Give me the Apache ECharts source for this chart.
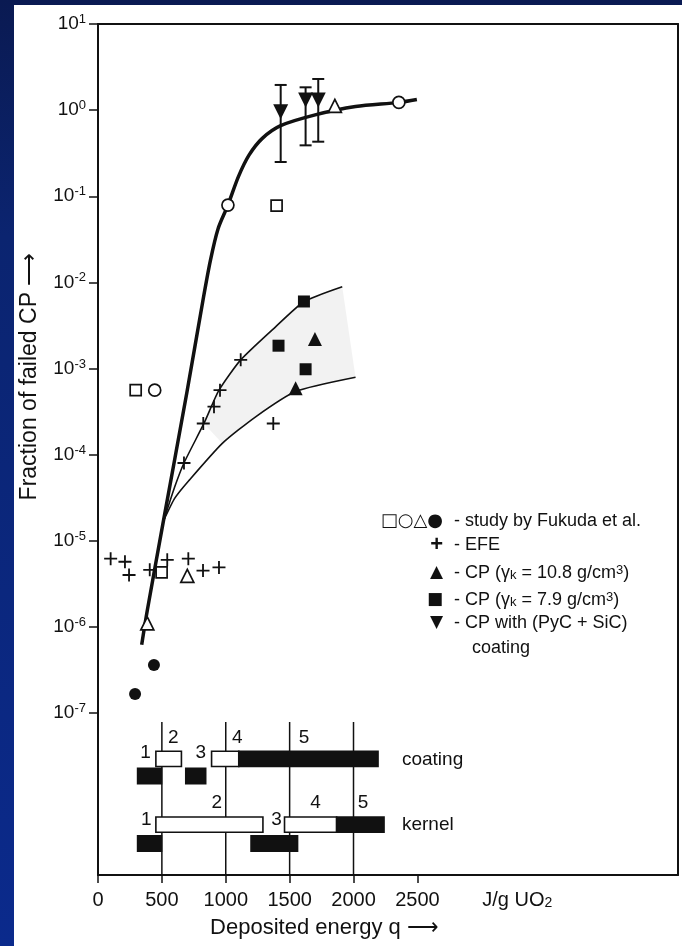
<!DOCTYPE html>
<html>
<head>
<meta charset="utf-8">
<script src="https://cdn.jsdelivr.net/npm/echarts@6/dist/echarts.min.js"></script>
<style>
  html, body { margin: 0; padding: 0; width: 682px; height: 946px; overflow: hidden;
    background: linear-gradient(#0a1a52 0%, #0b2470 25%, #0b2a8c 100%); }
  #chart { position: absolute; left: 14px; top: 5px; width: 668px; height: 941px; background: #fff; }
</style>
</head>
<body>
<div id="chart"></div>
<script>
// ---- failure curves (deposited energy J/g UO2 -> fraction of failed coated particles)
const mainCurveX = [342, 386, 509, 696, 820, 880, 940, 1017, 1100, 1182, 1286, 1430, 1700, 2016, 2355, 2496];
const mainCurveY = [6.2e-7, 1.56e-6, 1.6e-5, 5.3e-4, 6.0e-3, 1.8e-2, 4.2e-2, 7.9e-2, 0.17, 0.30, 0.47, 0.66, 0.88, 1.1, 1.23, 1.33];
const upperCurveX = [516, 600, 673, 829, 947, 1117, 1390, 1612, 1912];
const upperCurveY = [1.74e-5, 4.2e-5, 8.0e-5, 2.3e-4, 5.6e-4, 1.26e-3, 3.05e-3, 5.96e-3, 8.9e-3];
const lowerCurveX = [516, 600, 712, 973, 1234, 1547, 2016];
const lowerCurveY = [1.74e-5, 3.1e-5, 5.0e-5, 1.35e-4, 2.75e-4, 5.4e-4, 7.9e-4];

// ---- Fukuda et al.
const fukudaSquareX = [295, 1398, 498];
const fukudaSquareY = [5.6e-4, 0.078, 4.3e-6];
const fukudaCircleX = [444, 1017, 2355];
const fukudaCircleY = [5.6e-4, 0.079, 1.23];
const fukudaTriangleX = [1854, 699, 386];
const fukudaTriangleY = [1.12, 3.9e-6, 1.1e-6];
const fukudaDotX = [438, 290];
const fukudaDotY = [3.6e-7, 1.66e-7];

// ---- EFE
const efeX = [1117, 955, 908, 824, 673, 1372, 99, 211, 243, 405, 542, 707, 822, 947];
const efeY = [1.26e-3, 5.6e-4, 3.6e-4, 2.3e-4, 8.0e-5, 2.3e-4, 6.2e-6, 5.7e-6, 4.0e-6, 4.6e-6, 6.0e-6, 6.2e-6, 4.5e-6, 4.9e-6];

// ---- CP, kernel density 10.8 g/cm3 and 7.9 g/cm3
const cp108X = [1698, 1547];
const cp108Y = [2.2e-3, 5.9e-4];
const cp79X = [1612, 1413, 1625];
const cp79Y = [6.0e-3, 1.84e-3, 9.8e-4];

// ---- CP with (PyC + SiC) coating, with scatter ranges
const pycX = [1430, 1625, 1724];
const pycY = [0.96, 1.31, 1.31];
const pycLow = [0.25, 0.39, 0.43];
const pycHigh = [1.96, 1.84, 2.3];

// ---- axis ticks
const yTickValues = [1e-7, 1e-6, 1e-5, 1e-4, 1e-3, 1e-2, 1e-1, 1, 10];
const xTickValues = [0, 500, 1000, 1500, 2000, 2500];
const xUnitAt = 3282;

// ---- failure stages, bottom panel (row positions in panel units, 0 at top)
const stageRows = { coatingTop: 2.55, coatingLow: 3.5, kernelTop: 6.2, kernelLow: 7.25 };
// [start, end, row, filled]
const stageBars = [
  [453, 653, stageRows.coatingTop, 0],
  [889, 1102, stageRows.coatingTop, 0],
  [1102, 2192, stageRows.coatingTop, 1],
  [310, 497, stageRows.coatingLow, 1],
  [687, 843, stageRows.coatingLow, 1],
  [453, 1291, stageRows.kernelTop, 0],
  [1460, 1868, stageRows.kernelTop, 0],
  [1868, 2239, stageRows.kernelTop, 1],
  [310, 497, stageRows.kernelLow, 1],
  [1198, 1562, stageRows.kernelLow, 1]
];
const stageLines = [500, 1000, 1500, 2000];
// [x, row, text]
const stageNumbers = [
  [373, 2.22, '1'], [589, 1.39, '2'], [804, 2.22, '3'], [1090, 1.39, '4'], [1612, 1.39, '5'],
  [378, 5.94, '1'], [929, 5.0, '2'], [1398, 5.94, '3'], [1703, 5.0, '4'], [2074, 5.0, '5']
];
const stageNames = [[2379, 2.6, 'coating'], [2379, 6.22, 'kernel']];

const FONT = "'Liberation Sans', Arial, Helvetica, sans-serif";
const INK = '#111';
const X_MAX = 4540;

const zip = (xs, ys) => xs.map((x, i) => [x, ys[i]]);

const chart = echarts.init(document.getElementById('chart'));

const lineSeries = (name, xs, ys, width, smooth) => ({
  name, type: 'line', xAxisIndex: 0, yAxisIndex: 0,
  data: zip(xs, ys), showSymbol: false, smooth,
  lineStyle: { color: INK, width }, z: 3, silent: true
});

const scatterSeries = (name, xs, ys, symbol, size, filled, extra) => Object.assign({
  name, type: 'scatter', xAxisIndex: 0, yAxisIndex: 0,
  data: zip(xs, ys), symbol, symbolSize: size,
  itemStyle: { color: filled ? INK : '#fff', borderColor: INK, borderWidth: filled ? 0 : 1.7, opacity: 1 },
  z: 5
}, extra || {});

const supRich = {
  sub: { fontSize: 13, fontFamily: FONT, verticalAlign: 'bottom', lineHeight: 13 },
  sup: { fontSize: 13, fontFamily: FONT, verticalAlign: 'top', lineHeight: 13 }
};
const legendText = (y, text, x) => ({ type: 'text', x: x || 440, y,
  style: { text, fontSize: 18, fontFamily: FONT, fill: INK, verticalAlign: 'middle', rich: supRich } });
const legendMark = (y, text, size, family) => ({ type: 'text', x: 429, y,
  style: { text, fontSize: size, fontFamily: family || 'DejaVu Sans', fontWeight: 'bold', fill: INK, align: 'right', verticalAlign: 'middle' } });

const option = {
  backgroundColor: '#fff',
  animation: false,
  textStyle: { fontFamily: FONT, color: INK },
  grid: [
    { left: 84, right: 4, top: 19, height: 689, containLabel: false, outerBoundsMode: 'none' },
    { left: 84, right: 4, top: 708, height: 162, containLabel: false, outerBoundsMode: 'none' }
  ],
  xAxis: [
    { gridIndex: 0, type: 'value', min: 0, max: X_MAX, position: 'top',
      axisLine: { show: true, onZero: false, lineStyle: { color: INK, width: 2 } },
      axisTick: { show: false }, axisLabel: { show: false }, splitLine: { show: false } },
    { gridIndex: 1, type: 'value', min: 0, max: X_MAX, position: 'bottom',
      axisLine: { show: true, onZero: false, lineStyle: { color: INK, width: 2 } },
      axisTick: { show: true, inside: false, length: 8, customValues: xTickValues,
        lineStyle: { color: INK, width: 1.5 } },
      axisLabel: { customValues: xTickValues.concat([xUnitAt]), margin: 15, fontSize: 20,
        fontFamily: FONT, color: INK,
        formatter: v => v === xUnitAt ? '{u|J/g UO}{sb|2}' : String(v),
        rich: { u: { fontSize: 20, fontFamily: FONT, color: INK },
                sb: { fontSize: 14, fontFamily: FONT, color: INK, verticalAlign: 'bottom', padding: [6, 0, 0, 0] } } },
      splitLine: { show: false },
      name: 'Deposited energy q \u27F6', nameLocation: 'middle', nameGap: 42,
      nameTextStyle: { fontSize: 22, fontFamily: FONT, color: INK, padding: [0, 127, 0, 0] } }
  ],
  yAxis: [
    { gridIndex: 0, type: 'log', logBase: 10, min: 1e-7, max: 10, position: 'left',
      axisLine: { show: true, onZero: false, lineStyle: { color: INK, width: 2 } },
      axisTick: { show: true, inside: false, length: 9, customValues: yTickValues,
        lineStyle: { color: INK, width: 1.5 } },
      axisLabel: { customValues: yTickValues, margin: 12,
        formatter: v => '{b|10}{s|' + Math.round(Math.log10(v)) + '}',
        rich: { b: { fontSize: 19, fontFamily: FONT, color: INK, lineHeight: 22 },
                s: { fontSize: 13, fontFamily: FONT, color: INK, verticalAlign: 'top', lineHeight: 12 } } },
      splitLine: { show: false }, minorTick: { show: false },
      name: 'Fraction of failed CP \u27F6', nameLocation: 'middle', nameGap: 57, nameRotate: 90,
      nameTextStyle: { fontSize: 23, fontFamily: FONT, color: INK, padding: [0, 16, 0, 0] } },
    { gridIndex: 0, type: 'value', position: 'right', min: 0, max: 1,
      axisLine: { show: true, onZero: false, lineStyle: { color: INK, width: 2 } },
      axisTick: { show: false }, axisLabel: { show: false }, splitLine: { show: false } },
    { gridIndex: 1, type: 'value', min: 0, max: 9, inverse: true, position: 'left',
      axisLine: { show: true, onZero: false, lineStyle: { color: INK, width: 2 } },
      axisTick: { show: false }, axisLabel: { show: false }, splitLine: { show: false } },
    { gridIndex: 1, type: 'value', min: 0, max: 9, inverse: true, position: 'right',
      axisLine: { show: true, onZero: false, lineStyle: { color: INK, width: 2 } },
      axisTick: { show: false }, axisLabel: { show: false }, splitLine: { show: false } }
  ],
  series: [
    // faint band between the two thin curves
    { name: 'band', type: 'custom', xAxisIndex: 0, yAxisIndex: 0, silent: true, z: 1,
      data: zip(upperCurveX, upperCurveY),
      renderItem: (params, api) => {
        if (params.dataIndex !== 0) return null;
        const up = zip(upperCurveX, upperCurveY).filter(p => p[0] >= 820);
        const lo = zip(lowerCurveX, lowerCurveY).filter(p => p[0] >= 820).reverse();
        const pts = up.concat(lo).map(p => api.coord(p));
        return { type: 'polygon', shape: { points: pts },
                 style: { fill: 'rgba(0,0,0,0.05)' } };
      } },
    lineSeries('master curve', mainCurveX, mainCurveY, 3.5, 0.3),
    lineSeries('upper bound', upperCurveX, upperCurveY, 1.6, 0.2),
    lineSeries('lower bound', lowerCurveX, lowerCurveY, 1.6, 0.2),
    // scatter ranges for (PyC + SiC) coated particles
    { name: 'PyC+SiC range', type: 'custom', xAxisIndex: 0, yAxisIndex: 0, z: 4, silent: true,
      data: pycX.map((x, i) => [x, pycLow[i], pycHigh[i]]),
      encode: { x: 0, y: [1, 2] },
      renderItem: (params, api) => {
        const top = api.coord([api.value(0), api.value(2)]);
        const bot = api.coord([api.value(0), api.value(1)]);
        const w = 6;
        const st = { stroke: INK, lineWidth: 2 };
        return { type: 'group', children: [
          { type: 'line', shape: { x1: top[0], y1: top[1], x2: bot[0], y2: bot[1] }, style: st },
          { type: 'line', shape: { x1: top[0] - w, y1: top[1], x2: top[0] + w, y2: top[1] }, style: st },
          { type: 'line', shape: { x1: bot[0] - w, y1: bot[1], x2: bot[0] + w, y2: bot[1] }, style: st }
        ] };
      } },
    scatterSeries('Fukuda square', fukudaSquareX, fukudaSquareY, 'rect', 11, false),
    scatterSeries('Fukuda circle', fukudaCircleX, fukudaCircleY, 'circle', 12, false),
    scatterSeries('Fukuda triangle', fukudaTriangleX, fukudaTriangleY, 'triangle', 13, false),
    scatterSeries('Fukuda dot', fukudaDotX, fukudaDotY, 'circle', 12, true),
    scatterSeries('EFE', efeX, efeY, 'path://M4.3,0H5.7V4.3H10V5.7H5.7V10H4.3V5.7H0V4.3H4.3Z', 13, true),
    scatterSeries('CP 10.8', cp108X, cp108Y, 'triangle', 14, true),
    scatterSeries('CP 7.9', cp79X, cp79Y, 'rect', 12, true),
    scatterSeries('CP PyC+SiC', pycX, pycY, 'triangle', 15, true, { symbolRotate: 180 }),

    // bottom panel: stage boundaries
    { name: 'stage lines', type: 'custom', xAxisIndex: 1, yAxisIndex: 2, z: 1, silent: true,
      data: stageLines.map(x => [x]),
      renderItem: (params, api) => {
        const a = api.coord([api.value(0), 0.5]);
        const b = api.coord([api.value(0), 9]);
        return { type: 'line', shape: { x1: a[0], y1: a[1], x2: b[0], y2: b[1] },
                 style: { stroke: INK, lineWidth: 1.5 } };
      } },
    // bottom panel: stage bars
    { name: 'stage bars', type: 'custom', xAxisIndex: 1, yAxisIndex: 2, z: 2, silent: true,
      data: stageBars,
      encode: { x: [0, 1], y: 2 },
      renderItem: (params, api) => {
        const s = api.coord([api.value(0), api.value(2)]);
        const e = api.coord([api.value(1), api.value(2)]);
        const h = api.size([0, 0.85])[1];
        return { type: 'rect', shape: { x: s[0], y: s[1] - h / 2, width: e[0] - s[0], height: h },
                 style: { fill: api.value(3) ? INK : '#fff', stroke: INK, lineWidth: 1.6 } };
      } },
    // bottom panel: stage numbers and row names
    { name: 'stage labels', type: 'custom', xAxisIndex: 1, yAxisIndex: 2, z: 3, silent: true,
      data: stageNumbers.concat(stageNames).map(d => [d[0], d[1]]),
      renderItem: (params, api) => {
        const isName = params.dataIndex >= stageNumbers.length;
        const item = isName ? stageNames[params.dataIndex - stageNumbers.length] : stageNumbers[params.dataIndex];
        const p = api.coord([item[0], item[1]]);
        return { type: 'text', x: p[0], y: p[1],
                 style: { text: item[2], fontSize: 19, fontFamily: FONT, fill: INK,
                          align: isName ? 'left' : 'center', verticalAlign: 'middle' } };
      } }
  ],
  graphic: [
    { type: 'group', children: [
      legendMark(516, '\u25A1\u25CB\u25B3\u25CF', 18),
      legendMark(540, '+', 22, FONT),
      legendMark(568, '\u25B2', 17),
      legendMark(595, '\u25A0', 17),
      legendMark(618, '\u25BC', 17),
      legendText(516, '- study by Fukuda et al.'),
      legendText(540, '- EFE'),
      legendText(568, '- CP (\u03B3{sub|k} = 10.8 g/cm{sup|3})'),
      legendText(595, '- CP (\u03B3{sub|k} = 7.9 g/cm{sup|3})'),
      legendText(618, '- CP with (PyC + SiC)'),
      legendText(643, 'coating', 458)
    ] }
  ]
};

chart.setOption(option);
</script>
</body>
</html>
